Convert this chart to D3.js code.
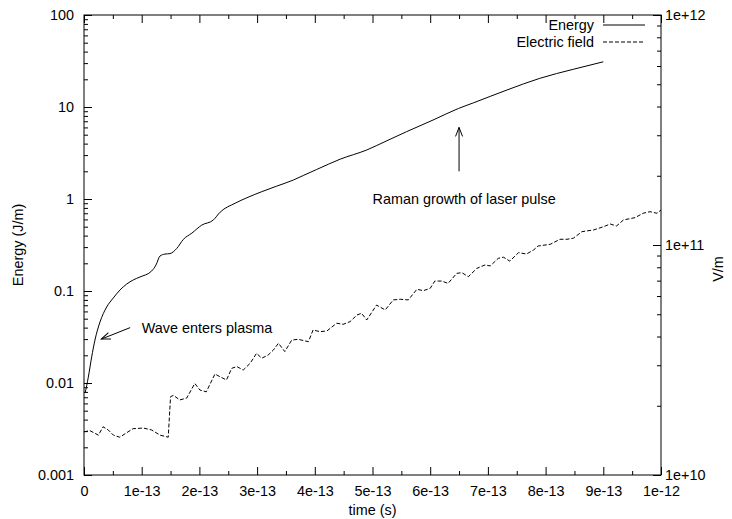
<!DOCTYPE html>
<html>
<head>
<meta charset="utf-8">
<script src="https://cdn.jsdelivr.net/npm/d3@7"></script>
<style>
  html, body { margin: 0; padding: 0; background: #fff; }
  svg text { font-family: "Liberation Sans", Arial, Helvetica, sans-serif; font-size: 14.4px; fill: #000; }
</style>
</head>
<body>
<div id="chart"></div>
<script>
// time (s), energy (J/m)
const energyData = [
  [0.02e-13, 0.0078], [0.075e-13, 0.0116], [0.133e-13, 0.0192], [0.19e-13, 0.0293],
  [0.277e-13, 0.046], [0.393e-13, 0.067], [0.508e-13, 0.084], [0.624e-13, 0.1026],
  [0.854e-13, 0.132], [0.97e-13, 0.142], [1.173e-13, 0.165], [1.248e-13, 0.192],
  [1.317e-13, 0.24], [1.404e-13, 0.252], [1.49e-13, 0.255], [1.607e-13, 0.29],
  [1.72e-13, 0.363], [1.87e-13, 0.426], [2.04e-13, 0.52], [2.24e-13, 0.59],
  [2.36e-13, 0.72], [2.62e-13, 0.90], [2.82e-13, 1.03], [3.08e-13, 1.20],
  [3.34e-13, 1.38], [3.63e-13, 1.61], [3.80e-13, 1.80], [4.03e-13, 2.09],
  [4.44e-13, 2.71], [4.90e-13, 3.41], [5.25e-13, 4.30], [5.59e-13, 5.39],
  [6.05e-13, 7.22], [6.49e-13, 9.64], [6.75e-13, 11.1], [7.33e-13, 15.3],
  [7.90e-13, 20.5], [8.48e-13, 25.7], [9.0e-13, 31.0]
];

// time (s), electric field (V/m)
const fieldData = [
  [0, 1.54e10], [0.10e-13, 1.56e10], [0.25e-13, 1.49e10], [0.33e-13, 1.62e10],
  [0.42e-13, 1.57e10], [0.51e-13, 1.49e10], [0.62e-13, 1.46e10], [0.71e-13, 1.51e10],
  [0.85e-13, 1.59e10], [1.03e-13, 1.60e10], [1.17e-13, 1.57e10], [1.32e-13, 1.49e10],
  [1.46e-13, 1.46e10], [1.50e-13, 2.19e10], [1.55e-13, 2.22e10], [1.66e-13, 2.12e10],
  [1.78e-13, 2.16e10], [1.92e-13, 2.50e10], [2.01e-13, 2.34e10], [2.12e-13, 2.30e10],
  [2.27e-13, 2.75e10], [2.36e-13, 2.67e10], [2.47e-13, 2.59e10], [2.56e-13, 2.91e10],
  [2.65e-13, 2.96e10], [2.76e-13, 2.86e10], [2.88e-13, 3.06e10], [2.99e-13, 3.38e10],
  [3.08e-13, 3.22e10], [3.19e-13, 3.32e10], [3.28e-13, 3.49e10], [3.37e-13, 3.74e10],
  [3.48e-13, 3.44e10], [3.60e-13, 3.86e10], [3.71e-13, 3.89e10], [3.89e-13, 3.80e10],
  [3.97e-13, 4.27e10], [4.09e-13, 4.20e10], [4.21e-13, 4.23e10], [4.38e-13, 4.57e10],
  [4.49e-13, 4.52e10], [4.61e-13, 4.64e10], [4.73e-13, 4.96e10], [4.81e-13, 5.05e10],
  [4.90e-13, 4.72e10], [5.07e-13, 5.48e10], [5.22e-13, 5.22e10], [5.36e-13, 5.77e10],
  [5.48e-13, 5.81e10], [5.62e-13, 5.77e10], [5.77e-13, 6.42e10], [5.88e-13, 6.33e10],
  [6.00e-13, 6.48e10], [6.08e-13, 6.97e10], [6.20e-13, 6.97e10], [6.31e-13, 6.81e10],
  [6.46e-13, 7.53e10], [6.55e-13, 7.58e10], [6.66e-13, 7.28e10], [6.81e-13, 7.92e10],
  [6.95e-13, 8.19e10], [7.04e-13, 8.11e10], [7.18e-13, 8.75e10], [7.27e-13, 8.85e10],
  [7.38e-13, 8.51e10], [7.53e-13, 9.26e10], [7.67e-13, 9.14e10], [7.79e-13, 9.51e10],
  [7.87e-13, 9.90e10], [8.08e-13, 1.007e11], [8.25e-13, 1.059e11], [8.37e-13, 1.059e11],
  [8.48e-13, 1.07e11], [8.63e-13, 1.143e11], [8.71e-13, 1.151e11], [8.83e-13, 1.162e11],
  [9.00e-13, 1.20e11], [9.12e-13, 1.234e11], [9.23e-13, 1.21e11], [9.35e-13, 1.285e11],
  [9.55e-13, 1.315e11], [9.69e-13, 1.374e11], [9.81e-13, 1.396e11], [9.93e-13, 1.374e11],
  [10.0e-13, 1.42e11]
];

const xTickValues = [0, 1e-13, 2e-13, 3e-13, 4e-13, 5e-13, 6e-13, 7e-13, 8e-13, 9e-13, 1e-12];
const xTickLabels = ["0", "1e-13", "2e-13", "3e-13", "4e-13", "5e-13", "6e-13", "7e-13", "8e-13", "9e-13", "1e-12"];
const yTickValues = [0.001, 0.01, 0.1, 1, 10, 100];
const yTickLabels = ["0.001", "0.01", "0.1", "1", "10", "100"];
const y2TickValues = [1e10, 1e11, 1e12];
const y2TickLabels = ["1e+10", "1e+11", "1e+12"];

const seriesNames = ["Energy", "Electric field"];

// annotations: [x, y] in energy axis units
const labels = [
  { text: "Wave enters plasma", at: [1e-13, 0.04] },
  { text: "Raman growth of laser pulse", at: [5e-13, 1] }
];
const arrows = [
  { from: [0.8e-13, 0.04], to: [0.3e-13, 0.03] },
  { from: [6.5e-13, 2], to: [6.5e-13, 6] }
];

const width = 732;
const height = 519;
const margin = { top: 15, right: 71, bottom: 44, left: 84 };

const svg = d3.select("#chart")
  .append("svg")
  .attr("width", width)
  .attr("height", height);

const x = d3.scaleLinear()
  .domain([0, 1e-12])
  .range([margin.left, width - margin.right]);

const y = d3.scaleLog()
  .domain([0.001, 100])
  .range([height - margin.bottom, margin.top]);

const y2 = d3.scaleLog()
  .domain([1e10, 1e12])
  .range([height - margin.bottom, margin.top]);

// minor ticks for log axes (2..9 in each decade)
const logMinors = (lo, hi) => {
  const out = [];
  for (let e = lo; e < hi; e++)
    for (let m = 2; m <= 9; m++) out.push(m * Math.pow(10, e));
  return out;
};
const xMinors = xTickValues.slice(0, -1).map(v => v + 0.5e-13);

const major = 8, minor = 4;

// bottom axis
svg.append("g")
  .attr("transform", `translate(0, ${y.range()[0]})`)
  .call(d3.axisBottom(x).tickValues(xTickValues)
    .tickFormat((d, i) => xTickLabels[i])
    .tickSize(-major).tickSizeOuter(0).tickPadding(11));
svg.append("g")
  .attr("transform", `translate(0, ${y.range()[0]})`)
  .call(d3.axisBottom(x).tickValues(xMinors).tickFormat("").tickSize(-minor).tickSizeOuter(0));

// top mirror ticks
svg.append("g")
  .attr("transform", `translate(0, ${margin.top})`)
  .call(d3.axisTop(x).tickValues(xTickValues).tickFormat("").tickSize(-major).tickSizeOuter(0));
svg.append("g")
  .attr("transform", `translate(0, ${margin.top})`)
  .call(d3.axisTop(x).tickValues(xMinors).tickFormat("").tickSize(-minor).tickSizeOuter(0));

// left axis
svg.append("g")
  .attr("transform", `translate(${margin.left}, 0)`)
  .call(d3.axisLeft(y).tickValues(yTickValues)
    .tickFormat((d, i) => yTickLabels[i])
    .tickSize(-major).tickSizeOuter(0).tickPadding(10));
svg.append("g")
  .attr("transform", `translate(${margin.left}, 0)`)
  .call(d3.axisLeft(y).tickValues(logMinors(-3, 2)).tickFormat("").tickSize(-minor).tickSizeOuter(0));

// right axis
svg.append("g")
  .attr("transform", `translate(${width - margin.right}, 0)`)
  .call(d3.axisRight(y2).tickValues(y2TickValues)
    .tickFormat((d, i) => y2TickLabels[i])
    .tickSize(-major).tickSizeOuter(0).tickPadding(4));
svg.append("g")
  .attr("transform", `translate(${width - margin.right}, 0)`)
  .call(d3.axisRight(y2).tickValues(logMinors(10, 12)).tickFormat("").tickSize(-minor).tickSizeOuter(0));

svg.selectAll(".domain").remove();
svg.selectAll(".tick line").attr("stroke", "#000");
svg.selectAll(".tick text").attr("font-size", null).attr("font-family", null);

// frame
svg.append("rect")
  .attr("x", margin.left)
  .attr("y", margin.top)
  .attr("width", x.range()[1] - x.range()[0])
  .attr("height", y.range()[0] - y.range()[1])
  .attr("fill", "none")
  .attr("stroke", "#000");

// axis titles
svg.append("text")
  .attr("transform", `translate(18, ${(margin.top + y.range()[0]) / 2}) rotate(-90)`)
  .attr("text-anchor", "middle")
  .attr("dominant-baseline", "central")
  .text("Energy (J/m)");

svg.append("text")
  .attr("transform", `translate(718, 269) rotate(-90)`)
  .attr("text-anchor", "middle")
  .attr("dominant-baseline", "central")
  .text("V/m");

svg.append("text")
  .attr("x", (x.range()[0] + x.range()[1]) / 2)
  .attr("y", 510)
  .attr("text-anchor", "middle")
  .attr("dominant-baseline", "central")
  .text("time (s)");

// curves
const energyLine = d3.line().x(d => x(d[0])).y(d => y(d[1])).curve(d3.curveMonotoneX);
const fieldLine = d3.line().x(d => x(d[0])).y(d => y2(d[1]));

svg.append("path")
  .datum(energyData)
  .attr("d", energyLine)
  .attr("fill", "none")
  .attr("stroke", "#000")
  .attr("stroke-width", 1);

svg.append("path")
  .datum(fieldData)
  .attr("d", fieldLine)
  .attr("fill", "none")
  .attr("stroke", "#000")
  .attr("stroke-width", 1)
  .attr("stroke-dasharray", "4,2");

// legend
const legendY = [25, 42];
seriesNames.forEach((name, i) => {
  svg.append("text")
    .attr("x", 594)
    .attr("y", legendY[i])
    .attr("text-anchor", "end")
    .attr("dominant-baseline", "central")
    .text(name);
  svg.append("line")
    .attr("x1", 603).attr("x2", 645)
    .attr("y1", legendY[i]).attr("y2", legendY[i])
    .attr("stroke", "#000")
    .attr("stroke-dasharray", i === 1 ? "4,2" : null);
});

// annotations
svg.append("defs").append("marker")
  .attr("id", "head")
  .attr("viewBox", "-10 -5 12 10")
  .attr("markerWidth", 12)
  .attr("markerHeight", 10)
  .attr("markerUnits", "userSpaceOnUse")
  .attr("orient", "auto")
  .append("path")
  .attr("d", "M-9,-3.5L0,0L-9,3.5")
  .attr("fill", "none")
  .attr("stroke", "#000");

arrows.forEach(a => {
  svg.append("line")
    .attr("x1", x(a.from[0])).attr("y1", y(a.from[1]))
    .attr("x2", x(a.to[0])).attr("y2", y(a.to[1]))
    .attr("stroke", "#000")
    .attr("marker-end", "url(#head)");
});

labels.forEach(l => {
  svg.append("text")
    .attr("x", x(l.at[0]))
    .attr("y", y(l.at[1]))
    .attr("dominant-baseline", "central")
    .text(l.text);
});
</script>
</body>
</html>
